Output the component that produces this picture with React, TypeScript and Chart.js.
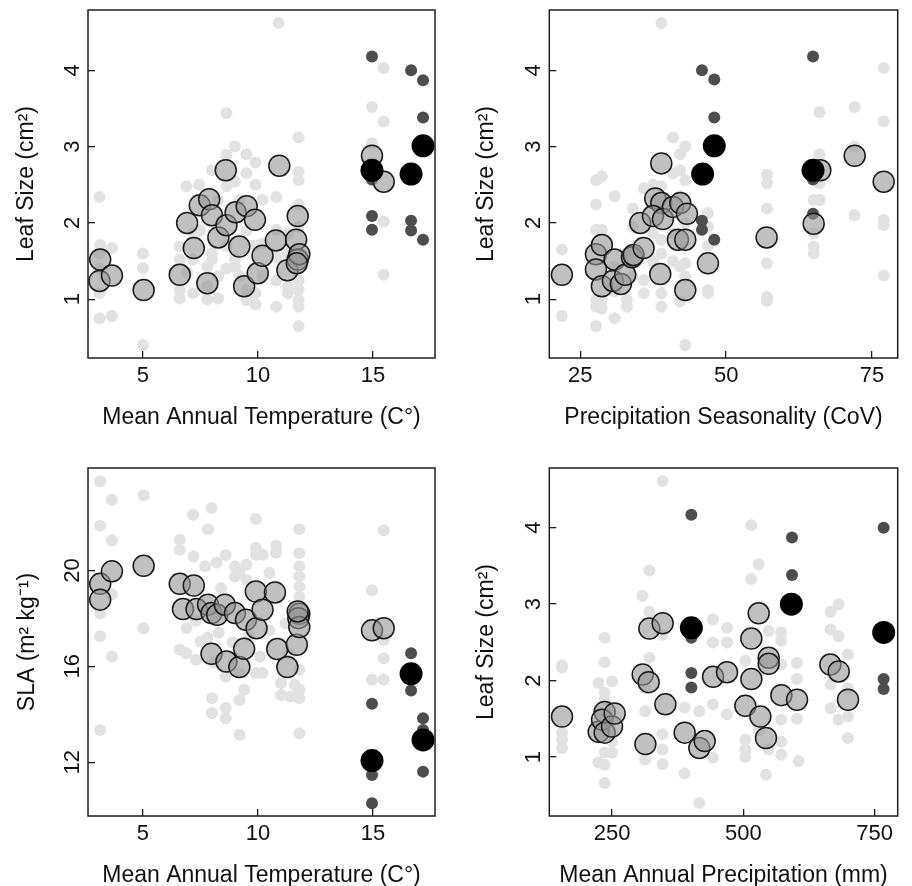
import React, { useEffect, useRef } from 'react';
import { Chart, registerables } from 'chart.js';
Chart.register(...registerables);

type Pt = [number, number];
const FONT = '"Liberation Sans", Arial, Helvetica, sans-serif';

const tempTicks = [5, 10, 15];
const leafTicks = [1, 2, 3, 4];
const slaTicks = [12, 16, 20];
const seasTicks = [25, 50, 75];
const precTicks = [250, 500, 750];

// ---------- Panel 1: Leaf size vs mean annual temperature ----------
const p1Light: Pt[] = [
  [3.11, 2.34], [3.14, 1.71], [3.11, 1.6], [3.11, 1.08], [3.11, 0.75], [3.65, 1.67], [3.65, 0.78], [3.11, 1.4],
  [5.0, 1.6], [5.0, 1.41], [5.0, 0.4],
  [6.6, 1.69], [6.6, 1.52], [6.6, 1.12], [6.6, 1.01], [6.89, 2.48], [6.92, 1.35],
  [7.18, 1.86], [7.18, 1.52], [7.18, 1.08], [7.44, 2.5], [7.47, 1.9], [7.8, 1.43], [7.8, 1.17], [7.8, 1.0],
  [8.0, 2.69], [8.0, 1.6], [8.0, 1.52], [8.27, 1.01], [8.27, 2.3], [8.27, 1.3],
  [8.63, 3.44], [8.63, 2.89], [8.63, 2.48], [8.63, 1.7], [8.63, 1.4],
  [9.0, 3.0], [9.0, 2.54], [9.0, 1.52], [9.0, 1.43], [9.2, 2.3], [9.2, 1.3],
  [9.5, 2.9], [9.5, 2.65], [9.5, 1.12], [9.5, 0.99], [9.5, 1.9],
  [9.9, 2.79], [9.9, 2.5], [9.9, 0.93], [9.9, 1.08], [9.9, 1.7],
  [10.2, 1.73], [10.2, 1.3], [10.2, 2.3],
  [10.8, 2.34], [10.8, 1.91], [10.8, 1.25], [10.8, 0.9], [10.8, 1.55], [10.9, 4.62],
  [11.3, 1.86], [11.3, 1.08], [11.3, 1.17], [11.3, 1.6],
  [11.77, 3.12], [11.77, 2.67], [11.77, 2.56], [11.77, 2.24], [11.77, 1.25], [11.77, 1.12], [11.77, 0.99],
  [11.77, 0.9], [11.77, 0.65], [11.77, 1.95], [11.77, 1.4],
  [14.96, 3.52], [14.96, 3.04], [14.96, 2.56], [15.47, 4.03], [15.47, 3.33], [15.47, 2.02], [15.47, 1.32],
];
const p1Grey: Pt[] = [
  [3.14, 1.52], [3.11, 1.24], [3.65, 1.31], [5.03, 1.12], [6.6, 1.32], [6.92, 2.0], [7.21, 1.67], [7.47, 2.23],
  [7.8, 1.21], [7.88, 2.31], [8.0, 2.1], [8.28, 1.81], [8.6, 2.69], [8.63, 1.97], [9.03, 2.14], [9.51, 2.22],
  [9.87, 2.04], [9.19, 1.69], [9.4, 1.17], [9.99, 1.34], [10.2, 1.57], [10.78, 1.77], [10.93, 2.75], [11.73, 2.09],
  [11.66, 1.78], [11.28, 1.38], [11.73, 1.52], [11.8, 1.59], [11.69, 1.47], [14.96, 2.88], [15.47, 2.54],
];
const p1Dark: Pt[] = [
  [14.96, 4.18], [14.96, 2.09], [14.96, 1.91], [14.96, 2.57], [16.66, 4.0], [16.66, 2.03], [16.66, 1.9],
  [17.18, 3.87], [17.18, 3.38], [17.18, 1.78],
];
const p1Black: Pt[] = [[14.96, 2.69], [16.66, 2.64], [17.18, 3.01]];

// ---------- Panel 2: Leaf size vs precipitation seasonality ----------
const p2Light: Pt[] = [
  [21.86, 1.65], [21.86, 0.78],
  [27.7, 2.56], [27.7, 2.24], [27.7, 1.91], [27.7, 0.99], [27.7, 0.9], [27.7, 0.65],
  [28.7, 2.61], [28.7, 1.91], [28.7, 0.99], [28.7, 0.88],
  [30.9, 2.35], [30.9, 0.75], [30.9, 1.43], [30.9, 1.1],
  [33.0, 0.99], [33.0, 0.9], [33.0, 1.6],
  [34.0, 2.19], [34.0, 1.95], [34.0, 1.3],
  [35.9, 1.25], [35.9, 1.08], [35.9, 2.45],
  [37.5, 2.5], [37.5, 1.86], [37.5, 1.5],
  [38.9, 4.62], [38.9, 2.48], [38.9, 1.08], [38.9, 0.9], [38.9, 1.78], [38.9, 1.6],
  [40.9, 3.12], [40.9, 2.65], [40.9, 1.86], [40.9, 1.5],
  [42.1, 2.9], [42.1, 2.69], [42.1, 2.35], [42.1, 0.97], [42.1, 1.43],
  [43.0, 3.0], [43.0, 2.56], [43.0, 1.47], [43.0, 1.3], [43.0, 0.4], [43.0, 2.0],
  [46.9, 2.13], [46.9, 1.95], [46.9, 1.12], [46.9, 1.08], [46.9, 1.7],
  [57.0, 2.63], [57.0, 2.52], [57.0, 2.19], [57.0, 1.47], [57.0, 1.03], [57.0, 0.98],
  [66.0, 3.45], [66.0, 2.9], [66.0, 2.3], [66.0, 2.52], [65.0, 1.86], [65.0, 1.69], [65.0, 1.6], [65.0, 2.3],
  [72.0, 3.52], [72.0, 3.0], [72.0, 2.1],
  [77.0, 4.03], [77.0, 3.33], [77.0, 2.04], [77.0, 1.97], [77.0, 1.31],
];
const p2Grey: Pt[] = [
  [21.86, 1.32], [27.69, 1.59], [28.71, 1.71], [27.69, 1.39], [28.71, 1.17], [30.89, 1.52], [30.6, 1.24],
  [31.97, 1.2], [32.71, 1.32], [33.86, 1.55], [34.14, 1.58], [35.86, 1.67], [35.29, 2.0], [37.86, 2.32],
  [38.89, 2.26], [37.46, 2.09], [39.17, 2.05], [38.89, 2.78], [38.71, 1.33], [40.89, 2.21], [42.14, 2.26],
  [43.29, 2.12], [41.74, 1.78], [43.0, 1.78], [43.0, 1.12], [46.89, 1.47], [56.94, 1.81], [65.0, 1.99],
  [66.14, 2.69], [72.03, 2.88], [77.0, 2.54],
];
const p2Dark: Pt[] = [
  [45.86, 4.0], [47.97, 3.88], [47.97, 3.38], [45.86, 2.03], [45.86, 1.91], [47.97, 1.78], [64.89, 4.18],
  [64.89, 2.12], [64.89, 2.57],
];
const p2Black: Pt[] = [[45.97, 2.64], [47.97, 3.01], [64.89, 2.69]];

// ---------- Panel 3: SLA vs mean annual temperature ----------
const p3Light: Pt[] = [
  [3.14, 23.71], [3.65, 22.95], [3.14, 21.86], [3.65, 21.25], [5.03, 23.13], [3.14, 17.25], [3.65, 16.41],
  [3.14, 13.35], [5.03, 17.59], [3.14, 18.2], [3.65, 19.0],
  [7.18, 22.32], [7.98, 22.6], [7.83, 21.72], [6.6, 21.28], [6.6, 20.86], [7.2, 20.58], [7.7, 20.17],
  [8.2, 20.33], [8.6, 20.64],
  [9.91, 22.14], [9.91, 20.93], [9.91, 20.65], [10.2, 20.65], [10.79, 21.03], [10.79, 20.75],
  [11.8, 21.72], [11.8, 20.72], [11.8, 20.17], [11.8, 19.75], [11.8, 19.33], [11.8, 18.9],
  [9.0, 20.17], [9.2, 19.89], [9.5, 20.24], [9.0, 19.75], [8.4, 19.26], [9.5, 19.6], [10.5, 19.9],
  [14.96, 19.17], [15.47, 21.67], [15.47, 17.1], [15.47, 16.34], [14.96, 15.44], [15.47, 15.44],
  [6.6, 16.69], [6.9, 16.55], [7.3, 16.27], [7.5, 17.04], [8.1, 16.16], [8.6, 15.58], [9.2, 15.72],
  [9.4, 15.02], [9.2, 14.6], [8.0, 14.67], [8.0, 14.05], [8.6, 14.26], [8.6, 13.84], [9.2, 13.14], [11.8, 13.21],
  [11.0, 14.81], [11.4, 14.74], [11.8, 14.67], [11.0, 15.3], [11.6, 15.23], [11.8, 15.02], [9.9, 15.72],
  [10.2, 15.72], [11.8, 15.86],
  [6.9, 17.6], [7.3, 17.9], [7.8, 17.2], [8.3, 17.4], [8.9, 17.0], [9.6, 17.3], [10.5, 17.5], [11.2, 17.8],
  [10.1, 16.4], [11.4, 16.5],
];
const p3Grey: Pt[] = [
  [3.14, 19.44], [3.14, 18.78], [3.65, 19.96], [5.03, 20.19], [6.6, 19.44], [7.21, 19.37], [6.74, 18.39],
  [7.33, 18.39], [7.83, 18.57], [7.98, 18.22], [8.23, 18.15], [8.56, 18.57], [9.0, 18.22], [9.48, 17.94],
  [9.94, 17.59], [9.91, 19.12], [10.2, 18.36], [10.74, 19.08], [7.98, 16.52], [8.63, 16.2], [9.19, 15.97],
  [9.4, 16.73], [10.84, 16.72], [11.28, 15.97], [11.69, 16.9], [11.8, 18.19], [11.76, 18.01], [11.8, 17.64],
  [11.73, 18.29], [14.96, 17.5], [15.47, 17.59],
];
const p3Dark: Pt[] = [
  [16.66, 16.55], [16.66, 14.99], [14.96, 14.44], [14.96, 11.47], [14.96, 10.29], [17.18, 13.84],
  [17.18, 13.35], [17.18, 11.61],
];
const p3Black: Pt[] = [[16.66, 15.69], [14.96, 12.07], [17.18, 12.93]];

// ---------- Panel 4: Leaf size vs mean annual precipitation ----------
const p4Light: Pt[] = [
  [346.4, 4.61], [515, 4.03], [529, 3.52], [515, 3.33], [321, 3.44], [308, 3.11], [321, 2.9], [346, 2.6],
  [236, 2.56], [236, 2.24], [154.8, 2.17], [154.8, 2.2], [154.8, 1.32], [154.8, 1.23], [154.8, 1.12],
  [224, 1.97], [236, 1.84], [250, 1.99], [236, 1.06], [224, 0.93], [250, 1.06], [236, 0.66], [313, 0.97],
  [346, 0.91], [388, 0.79], [416, 0.4], [442, 2.8], [442, 2.5], [469, 2.69], [469, 2.5], [442, 0.99],
  [442, 1.69], [469, 1.56], [504, 2.26], [504, 1.23], [504, 1.1], [543, 0.77], [548, 2.65], [572, 2.63],
  [572, 2.52], [572, 2.21], [572, 1.49], [572, 1.03], [602, 2.23], [602, 2.02], [605, 0.95], [666, 2.9],
  [666, 2.67], [681, 3.0], [681, 2.58], [699, 2.34], [699, 1.25], [666, 1.64], [681, 1.49], [699, 1.53],
  [666, 1.95], [699, 1.9],
  [236, 1.75], [224, 1.6], [250, 1.2], [236, 0.9], [313, 1.6], [313, 1.9], [321, 2.3], [346, 1.3], [346, 1.1],
  [388, 1.65], [416, 1.6], [504, 1.0], [529, 1.35], [548, 1.1], [572, 1.2], [602, 1.5],
];
const p4Grey: Pt[] = [
  [154.8, 1.53], [224.6, 1.33], [236, 1.59], [231, 1.49], [236, 1.32], [250, 1.4], [255, 1.57], [308.4, 2.08],
  [319.8, 1.98], [321, 2.68], [346.4, 2.75], [313.5, 1.17], [351.5, 1.69], [388.3, 1.32], [416.2, 1.12],
  [426.4, 1.21], [442.3, 2.05], [468.9, 2.11], [503.8, 1.67], [515.2, 2.02], [515.2, 2.55], [529.2, 2.88],
  [532.4, 1.53], [543.1, 1.25], [548.2, 2.3], [548.2, 2.22], [572.3, 1.81], [602.2, 1.75], [665.6, 2.21],
  [681.5, 2.12], [699.2, 1.75],
];
const p4Dark: Pt[] = [
  [401, 4.17], [401, 2.1], [401, 1.91], [401, 2.56], [592.6, 3.87], [592.6, 3.38], [767, 4.0], [767, 2.02],
  [767, 1.89],
];
const p4Black: Pt[] = [[401, 2.69], [591.4, 3.0], [767.1, 2.63]];

type PanelCfg = {
  left: number; top: number; yAxisW: number; padRight: number; yTitlePad: number;
  xMin: number; xMax: number; yMin: number; yMax: number;
  xTicks: number[]; yTicks: number[]; xTitle: string; yTitle: string;
  light: Pt[]; grey: Pt[]; dark: Pt[]; black: Pt[];
};

const panels: PanelCfg[] = [
  {
    left: 0, top: 0, yAxisW: 88, padRight: 21, yTitlePad: 13,
    xMin: 2.61, xMax: 17.7, yMin: 0.23, yMax: 4.79, xTicks: tempTicks, yTicks: leafTicks,
    xTitle: 'Mean Annual Temperature (C°)', yTitle: 'Leaf Size (cm²)',
    light: p1Light, grey: p1Grey, dark: p1Dark, black: p1Black,
  },
  {
    left: 456, top: 0, yAxisW: 93.3, padRight: 14.3, yTitlePad: 17,
    xMin: 19.7, xMax: 79.4, yMin: 0.23, yMax: 4.79, xTicks: seasTicks, yTicks: leafTicks,
    xTitle: 'Precipitation Seasonality (CoV)', yTitle: 'Leaf Size (cm²)',
    light: p2Light, grey: p2Grey, dark: p2Dark, black: p2Black,
  },
  {
    left: 0, top: 458.3, yAxisW: 88, padRight: 21, yTitlePad: 14,
    xMin: 2.61, xMax: 17.7, yMin: 9.76, yMax: 24.27, xTicks: tempTicks, yTicks: slaTicks,
    xTitle: 'Mean Annual Temperature (C°)', yTitle: 'SLA (m² kg⁻¹)',
    light: p3Light, grey: p3Grey, dark: p3Dark, black: p3Black,
  },
  {
    left: 456, top: 458.3, yAxisW: 93.3, padRight: 14.3, yTitlePad: 17,
    xMin: 130.6, xMax: 793.8, yMin: 0.23, yMax: 4.78, xTicks: precTicks, yTicks: leafTicks,
    xTitle: 'Mean Annual Precipitation (mm)', yTitle: 'Leaf Size (cm²)',
    light: p4Light, grey: p4Grey, dark: p4Dark, black: p4Black,
  },
];

const toXY = (a: Pt[]) => a.map(([x, y]) => ({ x, y }));

const framePlugin = {
  id: 'frameAndYLabels',
  afterDraw(chart: any) {
    const { ctx, chartArea: a } = chart;
    ctx.save();
    ctx.strokeStyle = '#1e1e1e';
    ctx.lineWidth = 1.5;
    ctx.strokeRect(a.left, a.top, a.right - a.left, a.bottom - a.top);
    const ys = chart.scales.y;
    ctx.fillStyle = '#111';
    ctx.font = `22px ${FONT}`;
    ctx.textAlign = 'center';
    ctx.textBaseline = 'alphabetic';
    ys.ticks.forEach((t: any) => {
      const py = ys.getPixelForValue(t.value);
      ctx.save();
      ctx.translate(a.left - 9, py);
      ctx.rotate(-Math.PI / 2);
      ctx.fillText(String(t.value), 0, 0);
      ctx.restore();
    });
    ctx.restore();
  },
};

function Panel({ cfg }: { cfg: PanelCfg }) {
  const ref = useRef<HTMLCanvasElement>(null);
  useEffect(() => {
    const chart = new Chart(ref.current as HTMLCanvasElement, {
      type: 'scatter',
      data: {
        datasets: [
          { data: toXY(cfg.black), pointRadius: 11.5, backgroundColor: '#000', borderWidth: 0 },
          {
            data: toXY(cfg.grey), pointRadius: 10.5, backgroundColor: 'rgba(150,150,150,0.6)',
            borderColor: '#1a1a1a', borderWidth: 1.5,
          },
          { data: toXY(cfg.dark), pointRadius: 6, backgroundColor: '#4d4d4d', borderWidth: 0 },
          { data: toXY(cfg.light), pointRadius: 6, backgroundColor: '#e2e2e2', borderWidth: 0 },
        ] as any,
      },
      options: {
        responsive: false,
        animation: false,
        devicePixelRatio: 1,
        events: [],
        layout: { padding: { left: 0, right: cfg.padRight, top: 10, bottom: 0 }, autoPadding: false },
        plugins: { legend: { display: false }, tooltip: { enabled: false } },
        scales: {
          x: {
            type: 'linear', position: 'bottom', min: cfg.xMin, max: cfg.xMax,
            afterBuildTicks: (s: any) => { s.ticks = cfg.xTicks.map((v) => ({ value: v })); },
            afterFit: (s: any) => { s.height = 82; },
            grid: { display: true, drawOnChartArea: false, drawTicks: true, tickLength: -7, color: '#1e1e1e', lineWidth: 1.3 },
            border: { display: false },
            ticks: { font: { size: 22, family: FONT }, color: '#111', padding: 12, maxRotation: 0, autoSkip: false },
            title: { display: true, text: cfg.xTitle, font: { size: 23, family: FONT }, color: '#111', padding: { top: 0, bottom: 9 } },
          },
          y: {
            type: 'linear', position: 'left', min: cfg.yMin, max: cfg.yMax,
            afterBuildTicks: (s: any) => { s.ticks = cfg.yTicks.map((v) => ({ value: v })); },
            afterFit: (s: any) => { s.width = cfg.yAxisW; },
            grid: { display: true, drawOnChartArea: false, drawTicks: true, tickLength: -7, color: '#1e1e1e', lineWidth: 1.3 },
            border: { display: false },
            ticks: { display: false },
            title: { display: true, text: cfg.yTitle, font: { size: 23, family: FONT }, color: '#111', padding: { top: cfg.yTitlePad, bottom: 0 } },
          },
        },
      } as any,
      plugins: [framePlugin],
    });
    return () => chart.destroy();
  }, [cfg]);
  return (
    <canvas
      ref={ref}
      width={456}
      height={440}
      style={{ position: 'absolute', left: cfg.left, top: cfg.top, width: 456, height: 440 }}
    />
  );
}

export default function App() {
  return (
    <div style={{ position: 'absolute', left: 0, top: 0, width: 912, height: 886, overflow: 'hidden', background: '#fff' }}>
      {panels.map((p, i) => (
        <Panel key={i} cfg={p} />
      ))}
    </div>
  );
}
